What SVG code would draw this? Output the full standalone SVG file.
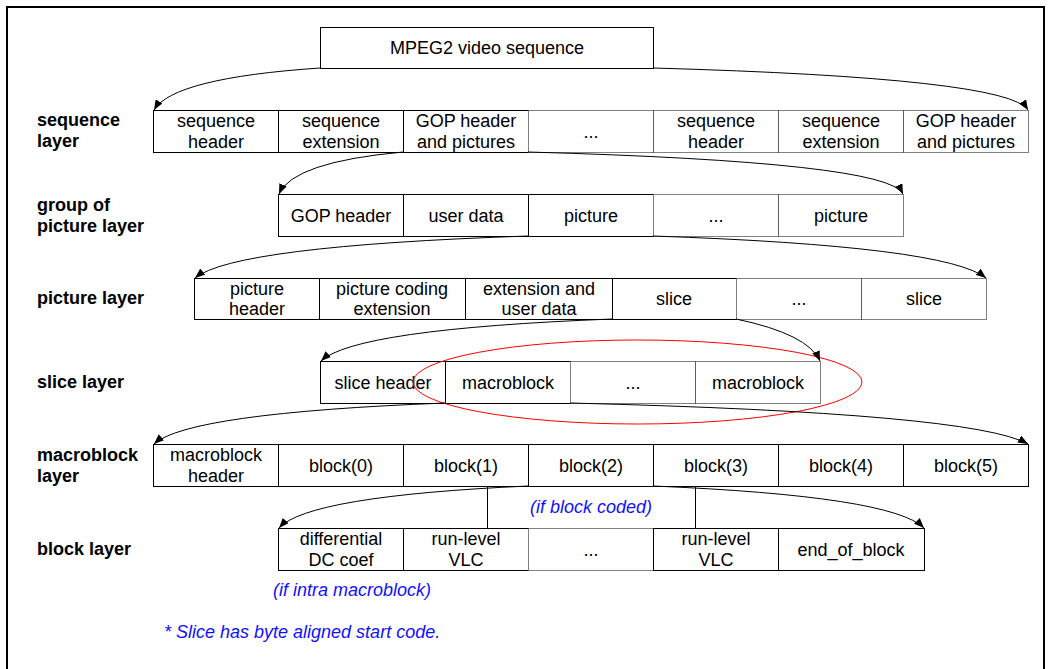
<svg xmlns="http://www.w3.org/2000/svg" width="1052" height="669" viewBox="0 0 1052 669">
<style>
text{font-family:"Liberation Sans",Arial,sans-serif;font-size:18px;fill:#000;text-anchor:middle}
.lbl{font-weight:bold;text-anchor:start}
.note{fill:#1010ff;font-style:italic}
.s{fill:#fff;stroke:#000;stroke-width:1}
.d{fill:#fff;stroke:#000;stroke-width:1;stroke-dasharray:1,1}
.c{fill:none;stroke:#000;stroke-width:1;marker-end:url(#ah)}
</style>
<defs>
<marker id="ah" markerUnits="userSpaceOnUse" markerWidth="10" markerHeight="8" refX="10" refY="4" orient="auto">
<path d="M0,0 L10,4 L0,8 z" fill="#000"/>
</marker>
</defs>
<rect width="1052" height="669" fill="#fff"/>
<path d="M7,669 V7 H1044 V669" fill="none" stroke="#000" stroke-width="2"/>

<g id="labels">
<text class="lbl" x="37" y="126">sequence</text><text class="lbl" x="37" y="147">layer</text>
<text class="lbl" x="37" y="211">group of</text><text class="lbl" x="37" y="232">picture layer</text>
<text class="lbl" x="37" y="304">picture layer</text>
<text class="lbl" x="37" y="388">slice layer</text>
<text class="lbl" x="37" y="461">macroblock</text><text class="lbl" x="37" y="482">layer</text>
<text class="lbl" x="37" y="555">block layer</text>
</g>

<g id="mpeg2">
<rect class="s" x="320.5" y="27.5" width="333" height="41"/>
<text x="487" y="54">MPEG2 video sequence</text>
</g>

<g id="sequence-layer">
<rect class="s" x="153.5" y="110.5" width="125" height="42"/>
<rect class="s" x="278.5" y="110.5" width="125" height="42"/>
<path class="s" d="M528.5,110.5 H403.5 V152.5 H528.5"/>
<rect class="d" x="528.5" y="110.5" width="125" height="42"/>
<rect class="d" x="653.5" y="110.5" width="125" height="42"/>
<rect class="d" x="778.5" y="110.5" width="125" height="42"/>
<rect class="d" x="903.5" y="110.5" width="125" height="42"/>
<text x="216" y="127">sequence</text><text x="216" y="148">header</text>
<text x="341" y="127">sequence</text><text x="341" y="148">extension</text>
<text x="466" y="127">GOP header</text><text x="466" y="148">and pictures</text>
<text x="591" y="138">...</text>
<text x="716" y="127">sequence</text><text x="716" y="148">header</text>
<text x="841" y="127">sequence</text><text x="841" y="148">extension</text>
<text x="966" y="127">GOP header</text><text x="966" y="148">and pictures</text>
</g>

<g id="gop-layer">
<rect class="s" x="278.5" y="194.5" width="125" height="42"/>
<rect class="s" x="403.5" y="194.5" width="125" height="42"/>
<path class="s" d="M653.5,194.5 H528.5 V236.5 H653.5"/>
<rect class="d" x="653.5" y="194.5" width="125" height="42"/>
<rect class="d" x="778.5" y="194.5" width="125" height="42"/>
<text x="341" y="222">GOP header</text>
<text x="466" y="222">user data</text>
<text x="591" y="222">picture</text>
<text x="716" y="222">...</text>
<text x="841" y="222">picture</text>
</g>

<g id="picture-layer">
<rect class="s" x="194.5" y="278.5" width="125" height="41"/>
<rect class="s" x="319.5" y="278.5" width="146" height="41"/>
<rect class="s" x="465.5" y="278.5" width="147" height="41"/>
<path class="s" d="M736.5,278.5 H612.5 V319.5 H736.5"/>
<rect class="d" x="736.5" y="278.5" width="125" height="41"/>
<rect class="d" x="861.5" y="278.5" width="125" height="41"/>
<text x="257" y="295">picture</text><text x="257" y="315">header</text>
<text x="392" y="295">picture coding</text><text x="392" y="315">extension</text>
<text x="539" y="295">extension and</text><text x="539" y="315">user data</text>
<text x="674" y="305">slice</text>
<text x="799" y="305">...</text>
<text x="924" y="305">slice</text>
</g>

<g id="slice-layer">
<rect class="s" x="320.5" y="361.5" width="125" height="42"/>
<path class="s" d="M570.5,361.5 H445.5 V403.5 H570.5"/>
<rect class="d" x="570.5" y="361.5" width="125" height="42"/>
<rect class="d" x="695.5" y="361.5" width="125" height="42"/>
<text x="383" y="389">slice header</text>
<text x="508" y="389">macroblock</text>
<text x="633" y="389">...</text>
<text x="758" y="389">macroblock</text>
</g>

<g id="macroblock-layer">
<rect class="s" x="153.5" y="444.5" width="125" height="42"/>
<rect class="s" x="278.5" y="444.5" width="125" height="42"/>
<rect class="s" x="403.5" y="444.5" width="125" height="42"/>
<rect class="s" x="528.5" y="444.5" width="125" height="42"/>
<rect class="s" x="653.5" y="444.5" width="125" height="42"/>
<rect class="s" x="778.5" y="444.5" width="125" height="42"/>
<rect class="s" x="903.5" y="444.5" width="125" height="42"/>
<text x="216" y="461">macroblock</text><text x="216" y="482">header</text>
<text x="341" y="472">block(0)</text>
<text x="466" y="472">block(1)</text>
<text x="591" y="472">block(2)</text>
<text x="716" y="472">block(3)</text>
<text x="841" y="472">block(4)</text>
<text x="966" y="472">block(5)</text>
</g>

<g id="block-coded-note">
<path d="M487.5,486.5 V528.5 M695.5,486.5 V528.5" fill="none" stroke="#000" stroke-width="1"/>
<text class="note" x="591" y="513">(if block coded)</text>
</g>

<g id="block-layer">
<rect class="s" x="278.5" y="528.5" width="125" height="42"/>
<path class="s" d="M528.5,528.5 H403.5 V570.5 H528.5"/>
<rect class="d" x="528.5" y="528.5" width="125" height="42"/>
<rect class="s" x="653.5" y="528.5" width="125" height="42"/>
<rect class="s" x="778.5" y="528.5" width="146" height="42"/>
<text x="341" y="545">differential</text><text x="341" y="566">DC coef</text>
<text x="466" y="545">run-level</text><text x="466" y="566">VLC</text>
<text x="591" y="556">...</text>
<text x="716" y="545">run-level</text><text x="716" y="566">VLC</text>
<text x="851" y="556">end_of_block</text>
</g>

<g id="notes">
<text class="note" x="352" y="596">(if intra macroblock)</text>
<text class="note" x="164" y="638" style="text-anchor:start">* Slice has byte aligned start code.</text>
</g>

<g id="highlight">
<ellipse cx="637.5" cy="382" rx="224.5" ry="42" fill="none" stroke="#ff0000" stroke-width="1"/>
</g>

<g id="connectors">
<path class="c" d="M320,68 Q173,78 154,110"/>
<path class="c" d="M653,68 Q1008,78 1028,110"/>
<path class="c" d="M403,152 Q293,162 279,194"/>
<path class="c" d="M528,152 Q888,162 903,194"/>
<path class="c" d="M528,236 Q234,246 195,278"/>
<path class="c" d="M653,236 Q946,246 986,278"/>
<path class="c" d="M612,319 Q355,329 321,361"/>
<path class="c" d="M736,319 Q808,334 820,361"/>
<path class="c" d="M445,403 Q188,413 154,444"/>
<path class="c" d="M570,403 Q973,413 1028,444"/>
<path class="c" d="M528,486 Q308,496 279,528"/>
<path class="c" d="M653,486 Q892,496 924,528"/>
</g>
</svg>
